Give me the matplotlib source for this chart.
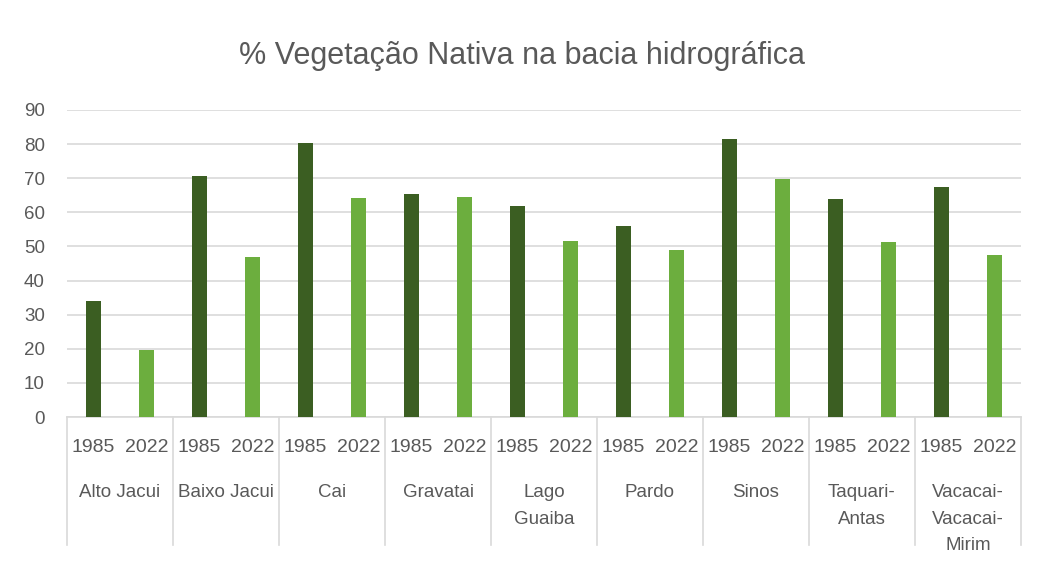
import matplotlib
matplotlib.use("Agg")
import matplotlib.pyplot as plt
from matplotlib.transforms import blended_transform_factory

plt.rcParams['font.family'] = ['Liberation Sans', 'DejaVu Sans']

categories = ["Alto Jacui", "Baixo Jacui", "Cai", "Gravatai", "Lago\nGuaiba",
              "Pardo", "Sinos", "Taquari-\nAntas", "Vacacai-\nVacacai-\nMirim"]
years = ["1985", "2022"]
vals_1985 = [34.0, 70.6, 80.2, 65.5, 61.8, 56.1, 81.6, 64.0, 67.4]
vals_2022 = [19.6, 46.8, 64.2, 64.5, 51.7, 49.0, 69.8, 51.4, 47.6]
yticks = [0, 10, 20, 30, 40, 50, 60, 70, 80, 90]
title = "% Vegetação Nativa na bacia hidrográfica"

c_dark = "#3B5E22"
c_light = "#6CAE3E"
txt = "#595959"

fig = plt.figure(figsize=(10.54, 5.75), dpi=100)
ax = fig.add_axes([67/1054, 1-417/575, (1021-67)/1054, (417-110)/575])

n = len(categories)
x85 = [2*i + 0.5 for i in range(n)]
x22 = [2*i + 1.5 for i in range(n)]
ax.bar(x85, vals_1985, width=0.3, color=c_dark, zorder=3)
ax.bar(x22, vals_2022, width=0.3, color=c_light, zorder=3)

ax.set_xlim(0, 2*n)
ax.set_ylim(0, 90)
ax.set_yticks(yticks)
ax.yaxis.grid(True, color="#D9D9D9", linewidth=1.2, zorder=0)
ax.set_axisbelow(True)
for s in ["left", "right", "top"]:
    ax.spines[s].set_visible(False)
ax.spines["bottom"].set_color("#D9D9D9")
ax.spines["bottom"].set_linewidth(1.2)
ax.tick_params(axis="y", length=0, pad=16, labelsize=13.5, labelcolor=txt)

xt = []
xl = []
for i in range(n):
    xt += [x85[i], x22[i]]
    xl += years
ax.set_xticks(xt)
ax.set_xticklabels(xl)
ax.tick_params(axis="x", length=0, pad=16, labelsize=14, labelcolor=txt)

trans = blended_transform_factory(ax.transData, ax.transAxes)
h = (417-110)
for i in range(n + 1):
    ax.plot([2*i, 2*i], [0, -128/h], transform=trans, color="#D9D9D9",
            linewidth=1.2, clip_on=False)
for i, c in enumerate(categories):
    ax.text(2*i + 1, -67/h, c, transform=trans, ha="center", va="top",
            fontsize=13.5, color=txt, linespacing=1.75)

fig.text(522/1054, 1-56/575, title, ha="center", va="center",
         fontsize=22, color=txt)

fig.savefig("out.png", dpi=100)
